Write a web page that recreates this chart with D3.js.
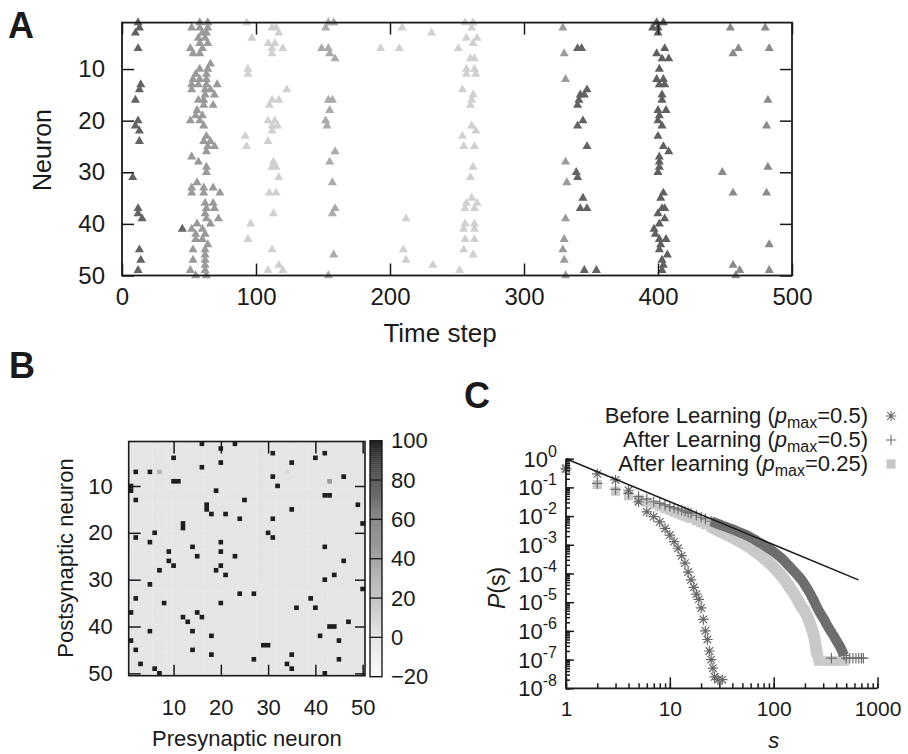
<!DOCTYPE html>
<html>
<head>
<meta charset="utf-8">
<script src="https://cdn.jsdelivr.net/npm/d3@7"></script>
<style>
body { margin: 0; background: #fff; }
svg text { font-family: "Liberation Sans", Arial, Helvetica, sans-serif; fill: #1a1a1a; }
</style>
</head>
<body>
<div id="chart"></div>
<script>
// ---------- panel A : spike raster, [time step, neuron] ----------
var spikesEarly = [[12,1],[13,2],[10,3],[12,6],[14,13],[13,14],[10,16],[12,20],[10,21],[13,22],[13,24],[8,31],[12,37],[12,38],[15,39],[13,45],[14,47],[12,49],[45,41]];
var spikesBurst1 = [[58,1],[64,1],[52,2],[58,2],[64,2],[60,3],[63,3],[57,4],[62,4],[58,5],[64,5],[51,6],[60,6],[53,7],[58,7],[66,9],[58,10],[64,10],[55,11],[63,11],[53,12],[58,12],[63,12],[52,13],[57,13],[63,13],[71,13],[52,14],[62,14],[66,14],[62,15],[69,15],[57,16],[61,16],[61,17],[68,17],[56,18],[55,19],[60,19],[51,20],[58,20],[61,21],[63,23],[61,24],[66,24],[64,25],[69,25],[63,26],[52,27],[57,28],[63,29],[63,30],[56,32],[52,33],[61,33],[68,33],[52,34],[61,34],[73,34],[62,36],[68,36],[63,37],[69,37],[62,38],[63,39],[72,39],[56,40],[66,40],[52,41],[60,41],[55,42],[62,42],[55,43],[60,43],[64,44],[53,45],[62,45],[62,46],[53,47],[62,47],[62,48],[51,49],[62,49],[55,50],[63,50]];
var spikesFaint1 = [[93,1],[97,4],[94,10],[94,11],[92,23],[93,25],[96,40],[94,43],[112,2],[115,2],[117,3],[109,5],[114,5],[112,6],[120,6],[112,7],[123,14],[112,16],[117,16],[110,17],[109,20],[114,20],[112,21],[116,21],[112,22],[109,24],[113,28],[115,29],[112,29],[117,31],[110,34],[115,34],[113,38],[112,45],[117,48],[109,49],[120,49]];
var spikesBurst2 = [[154,1],[158,1],[152,2],[149,6],[154,6],[155,7],[159,8],[154,16],[157,16],[155,18],[152,20],[153,21],[159,26],[155,28],[157,32],[159,37],[157,38],[158,46],[154,50]];
var spikesFaint2 = [[209,2],[231,3],[193,6],[207,6],[212,39],[210,45],[212,47],[232,48],[252,49],[256,1],[262,1],[261,2],[257,4],[265,4],[262,5],[251,6],[260,8],[263,8],[257,10],[263,10],[257,11],[264,11],[254,14],[262,15],[261,16],[260,17],[261,21],[264,22],[254,23],[255,25],[263,25],[262,29],[260,31],[261,35],[257,36],[265,36],[256,37],[263,37],[256,40],[263,40],[255,41],[263,41],[256,43],[263,43],[255,45],[262,46]];
var spikesBurst3 = [[329,2],[330,7],[331,12],[331,28],[332,32],[331,39],[330,43],[329,45],[330,47],[331,50]];
var spikesLate1 = [[340,6],[343,6],[347,14],[342,15],[345,15],[341,16],[340,17],[344,20],[340,21],[347,25],[339,30],[340,31],[344,35],[342,37],[347,37],[345,49],[354,49]];
var spikesLate2 = [[399,1],[404,1],[396,2],[400,2],[400,3],[405,6],[399,7],[403,8],[408,8],[401,10],[399,12],[404,12],[401,13],[405,13],[403,15],[403,16],[400,18],[406,18],[401,19],[400,20],[403,21],[400,23],[404,25],[408,26],[401,27],[401,28],[401,29],[400,30],[404,34],[402,35],[405,37],[403,37],[400,38],[405,39],[401,40],[397,41],[398,42],[401,43],[406,43],[402,44],[401,45],[407,46],[403,47],[404,48],[403,49]];
var spikesLate3 = [[454,2],[480,2],[460,6],[456,7],[483,6],[482,16],[481,21],[482,29],[448,30],[456,34],[481,34],[483,44],[456,48],[461,49],[458,50],[483,49]];
var timeTicks = [0,100,200,300,400,500];
var neuronTicks = [10,20,30,40,50];

// ---------- panel B : weight matrix ----------
var nNeurons = 50;
var baseWeight = 0;
// [presynaptic, postsynaptic], weight 100
var strongLinks = [[16,1],[23,1],[20,2],[31,3],[42,3],[10,4],[40,4],[20,5],[35,5],[16,6],[2,7],[5,7],[31,8],[46,8],[10,9],[11,9],[1,10],[32,10],[1,11],[19,11],[42,12],[43,12],[2,13],[25,13],[17,14],[49,14],[17,15],[35,15],[18,16],[21,16],[24,17],[31,17],[12,18],[50,18],[12,19],[6,20],[30,20],[2,21],[31,21],[5,22],[20,22],[14,23],[42,23],[9,24],[20,24],[15,25],[23,25],[9,26],[46,26],[10,27],[20,27],[7,28],[19,28],[21,29],[44,29],[42,30],[5,31],[50,32],[24,33],[27,33],[2,34],[39,34],[8,35],[20,35],[36,36],[40,36],[1,37],[15,37],[12,38],[16,38],[13,39],[47,39],[43,40],[44,40],[5,41],[14,41],[18,42],[41,42],[1,43],[45,43],[29,44],[30,44],[2,45],[14,45],[18,46],[35,46],[27,47],[45,47],[3,48],[34,48],[6,49],[35,49],[7,50],[42,50]];
// [presynaptic, postsynaptic, weight]
var weakLinks = [[7,7,30],[34,7,8],[43,9,45]];
var matrixTicks = [10,20,30,40,50];
var colorbarTicks = [-20,0,20,40,60,80,100];

// ---------- panel C : avalanche size distribution (log10 P) ----------
var sBefore = [1,2,3,4,5,6,7,8,9,10,11,12,13,14,15,16,17,18,19,20,21,22,23,24,25,26,27,29,32];
var lgBefore = [-0.35,-0.53,-0.74,-1.1,-1.5,-1.85,-2.02,-2.2,-2.43,-2.66,-2.89,-3.12,-3.38,-3.64,-3.95,-4.22,-4.48,-4.72,-4.9,-5.2,-5.6,-6.0,-6.3,-6.7,-7.0,-7.3,-7.6,-7.7,-7.7];
var sAfter = [1,2,3,4,5,6,7,8,9,10,11,12,13,14,15,16,18,20,22,25,28,32,36,41,46,52,58,65,73,82,92,103,115,128,140,155,170,185,200,220,240,260,280,300,325,350,375,400,425,450,475];
var lgAfter = [-0.35,-0.86,-1.07,-1.21,-1.32,-1.41,-1.5,-1.56,-1.61,-1.67,-1.71,-1.75,-1.79,-1.83,-1.87,-1.9,-1.97,-2.04,-2.1,-2.18,-2.25,-2.33,-2.4,-2.47,-2.55,-2.63,-2.71,-2.81,-2.92,-3.03,-3.15,-3.28,-3.42,-3.58,-3.73,-3.9,-4.06,-4.22,-4.4,-4.64,-4.9,-5.16,-5.38,-5.55,-5.78,-5.98,-6.15,-6.32,-6.48,-6.65,-6.85];
var sAfterTail = [360,500,540,580,620,660,700,730];
var lgAfterTail = -6.95;
var sAfter25 = [1,2,3,4,5,6,7,8,9,10,11,12,13,14,15,16,18,20,22,25,28,32,36,41,46,52,58,65,73,82,92,103,115,128,140,155,170,185,200,215,230,245,255,265];
var lgAfter25 = [-0.35,-0.9,-1.13,-1.29,-1.41,-1.51,-1.6,-1.67,-1.74,-1.8,-1.86,-1.91,-1.96,-2.0,-2.04,-2.08,-2.16,-2.23,-2.3,-2.39,-2.47,-2.57,-2.66,-2.76,-2.86,-2.97,-3.08,-3.2,-3.34,-3.49,-3.65,-3.83,-4.02,-4.23,-4.44,-4.67,-4.92,-5.15,-5.33,-5.57,-5.86,-6.2,-6.55,-6.9];
var sAfter25Tail = [270,300,330,360,400,440,480];
var lgAfter25Tail = -7.05;
var fitS = [1, 655];
var fitP = [1, 6.0e-5];
var sTicks = [1,10,100,1000];
var pExponents = [0,-1,-2,-3,-4,-5,-6,-7,-8];

var svg = d3.select("#chart").append("svg")
	.attr("width", 908)
	.attr("height", 754);

function styleAxis(g, fs) {
	g.select(".domain").remove();
	g.selectAll(".tick line").attr("stroke", "#1a1a1a").attr("stroke-width", 1.5);
	g.selectAll(".tick text").attr("font-size", fs).attr("fill", "#1a1a1a")
		.style("font-family", "'Liberation Sans', Arial, sans-serif");
}

//================ A =================
var xA = d3.scaleLinear().domain([0, 500]).range([122, 792]);
var yA = d3.scaleLinear().domain([1, 50]).range([22.6, 275.5]);
var tri = d3.symbol().type(d3.symbolTriangle).size(36);

var rasterGroups = [
	{spikes: spikesEarly, color: "#636363"},
	{spikes: spikesBurst1, color: "#9a9a9a"},
	{spikes: spikesFaint1, color: "#d0d0d0"},
	{spikes: spikesBurst2, color: "#ababab"},
	{spikes: spikesFaint2, color: "#d0d0d0"},
	{spikes: spikesBurst3, color: "#9c9c9c"},
	{spikes: spikesLate1, color: "#636363"},
	{spikes: spikesLate2, color: "#606060"},
	{spikes: spikesLate3, color: "#8a8a8a"}
];
var sA = svg.append("g");
rasterGroups.forEach(function(grp) {
	sA.append("g").selectAll("path")
		.data(grp.spikes)
		.enter()
		.append("path")
		.attr("d", tri)
		.attr("transform", function(d) { return "translate(" + xA(d[0]) + "," + yA(d[1]) + ")"; })
		.attr("fill", grp.color);
});

sA.append("g").attr("transform", "translate(0,275.5)")
	.call(d3.axisBottom(xA).tickValues(timeTicks).tickSize(-12).tickPadding(12))
	.call(styleAxis, 24);
sA.append("g").attr("transform", "translate(0,22.6)")
	.call(d3.axisTop(xA).tickValues(timeTicks).tickSize(-12).tickFormat(""))
	.call(styleAxis, 24);
sA.append("g").attr("transform", "translate(122,0)")
	.call(d3.axisLeft(yA).tickValues(neuronTicks).tickSize(-12).tickPadding(17))
	.call(styleAxis, 24);
sA.append("g").attr("transform", "translate(792,0)")
	.call(d3.axisRight(yA).tickValues(neuronTicks).tickSize(-12).tickFormat(""))
	.call(styleAxis, 24);
sA.append("rect")
	.attr("x", xA(0)).attr("y", yA(1))
	.attr("width", xA(500) - xA(0)).attr("height", yA(50) - yA(1))
	.attr("fill", "none").attr("stroke", "#1a1a1a").attr("stroke-width", 1.8);

sA.append("text").attr("x", 8).attr("y", 38)
	.attr("font-size", 36).attr("font-weight", "bold").text("A");
sA.append("text").attr("x", 440).attr("y", 342)
	.attr("text-anchor", "middle").attr("font-size", 26).text("Time step");
sA.append("text").attr("transform", "translate(51,150) rotate(-90)")
	.attr("text-anchor", "middle").attr("font-size", 25).text("Neuron");

//================ B =================
var xB = d3.scaleLinear().domain([0.5, nNeurons + 0.5]).range([128.7, 365]);
var yB = d3.scaleLinear().domain([0.5, nNeurons + 0.5]).range([441.5, 675.7]);
var colorW = d3.scaleLinear()
	.domain(colorbarTicks)
	.range(["#fbfbfb", "#e4e5e6", "#c5c5c5", "#a4a4a4", "#828282", "#5e5e5e", "#1e1e1e"])
	.clamp(true);

var cells = [];
d3.range(1, nNeurons + 1).forEach(function(post) {
	d3.range(1, nNeurons + 1).forEach(function(pre) {
		cells.push({pre: pre, post: post, w: baseWeight});
	});
});
function setW(pre, post, w) { cells[(post - 1) * nNeurons + (pre - 1)].w = w; }
strongLinks.forEach(function(d) { setW(d[0], d[1], 100); });
weakLinks.forEach(function(d) { setW(d[0], d[1], d[2]); });

var sB = svg.append("g");
var cw = xB(1.5) - xB(0.5), ch = yB(1.5) - yB(0.5);
sB.append("g").selectAll("rect")
	.data(cells)
	.enter()
	.append("rect")
	.attr("x", function(d) { return xB(d.pre - 0.5); })
	.attr("y", function(d) { return yB(d.post - 0.5); })
	.attr("width", cw + 0.3)
	.attr("height", ch + 0.3)
	.attr("fill", function(d) { return colorW(d.w); });

sB.append("g").attr("transform", "translate(0,675.7)")
	.call(d3.axisBottom(xB).tickValues(matrixTicks).tickSize(-11).tickPadding(24))
	.call(styleAxis, 22);
sB.append("g").attr("transform", "translate(0,441.5)")
	.call(d3.axisTop(xB).tickValues(matrixTicks).tickSize(-12).tickFormat(""))
	.call(styleAxis, 22);
sB.append("g").attr("transform", "translate(128.7,0)")
	.call(d3.axisLeft(yB).tickValues(matrixTicks).tickSize(-12).tickPadding(16))
	.call(styleAxis, 22);
sB.append("g").attr("transform", "translate(365,0)")
	.call(d3.axisRight(yB).tickValues(matrixTicks).tickSize(-10).tickFormat(""))
	.call(styleAxis, 22);
sB.append("rect")
	.attr("x", xB(0.5)).attr("y", yB(0.5))
	.attr("width", xB(50.5) - xB(0.5)).attr("height", yB(50.5) - yB(0.5))
	.attr("fill", "none").attr("stroke", "#1a1a1a").attr("stroke-width", 1.6);

// colorbar
var cbY = d3.scaleLinear().domain([-20, 100]).range([676.7, 440.7]);
sB.append("g").selectAll("rect")
	.data(d3.range(-20, 100, 1))
	.enter()
	.append("rect")
	.attr("x", 370)
	.attr("y", function(d) { return cbY(d + 1); })
	.attr("width", 12)
	.attr("height", function(d) { return cbY(d) - cbY(d + 1) + 0.3; })
	.attr("fill", function(d) { return colorW(d + 0.5); });
sB.append("g").selectAll("line")
	.data(colorbarTicks.slice(1, -1))
	.enter()
	.append("line")
	.attr("x1", 370).attr("x2", 382)
	.attr("y1", function(d) { return cbY(d); })
	.attr("y2", function(d) { return cbY(d); })
	.attr("stroke", "#1a1a1a").attr("stroke-width", 1.3);
sB.append("rect")
	.attr("x", 370).attr("y", cbY(100)).attr("width", 12).attr("height", cbY(-20) - cbY(100))
	.attr("fill", "none").attr("stroke", "#1a1a1a").attr("stroke-width", 1.4);
sB.append("g").selectAll("text")
	.data(colorbarTicks)
	.enter()
	.append("text")
	.attr("x", 391)
	.attr("y", function(d) { return cbY(d); })
	.attr("dy", "0.35em")
	.attr("font-size", 22)
	.text(function(d) { return d < 0 ? "\u2212" + (-d) : d; });

sB.append("text").attr("x", 9).attr("y", 378)
	.attr("font-size", 36).attr("font-weight", "bold").text("B");
sB.append("text").attr("x", (xB(0.5) + xB(50.5)) / 2).attr("y", 746)
	.attr("text-anchor", "middle").attr("font-size", 22).text("Presynaptic neuron");
sB.append("text").attr("transform", "translate(73,558) rotate(-90)")
	.attr("text-anchor", "middle").attr("font-size", 22).text("Postsynaptic neuron");

//================ C =================
var xC = d3.scaleLog().domain([1, 1000]).range([566, 877.5]);
var yC = d3.scaleLog().domain([1e-8, 1]).range([688.3, 458.7]);
function pOf(lg) { return Math.pow(10, lg); }

var sC = svg.append("g");

// stroke markers drawn as custom d3 symbol types
var symPlus = {
	draw: function(ctx, size) {
		var r = Math.sqrt(size) / 2;
		ctx.moveTo(-r, 0); ctx.lineTo(r, 0);
		ctx.moveTo(0, -r); ctx.lineTo(0, r);
	}
};
var symStar = {
	draw: function(ctx, size) {
		var r = Math.sqrt(size) / 2, q = r * 0.72;
		ctx.moveTo(-r, 0); ctx.lineTo(r, 0);
		ctx.moveTo(0, -r); ctx.lineTo(0, r);
		ctx.moveTo(-q, -q); ctx.lineTo(q, q);
		ctx.moveTo(-q, q); ctx.lineTo(q, -q);
	}
};
var mSquare = d3.symbol().type(d3.symbolSquare).size(85);
var mPlus = d3.symbol().type(symPlus).size(110);
var mStar = d3.symbol().type(symStar).size(110);

var sqColor = "#c9c9c9", plusColor = "#6e6e6e", starColor = "#686868";

var after25 = sAfter25.map(function(s, i) { return [s, pOf(lgAfter25[i])]; })
	.concat(sAfter25Tail.map(function(s) { return [s, pOf(lgAfter25Tail)]; }));
var after = sAfter.map(function(s, i) { return [s, pOf(lgAfter[i])]; })
	.concat(sAfterTail.map(function(s) { return [s, pOf(lgAfterTail)]; }));
var before = sBefore.map(function(s, i) { return [s, pOf(lgBefore[i])]; });

var band = d3.line()
	.x(function(d) { return xC(d[0]); })
	.y(function(d) { return yC(d[1]); })
	.curve(d3.curveMonotoneX);

// dense markers at large s merge into a band
sC.append("path")
	.datum(after25.filter(function(d, i) { return d[0] >= 25 && i < sAfter25.length; }))
	.attr("d", band).attr("fill", "none")
	.attr("stroke", sqColor).attr("stroke-width", 12).attr("stroke-linejoin", "round");
sC.append("g").selectAll("path")
	.data(after25)
	.enter()
	.append("path")
	.attr("d", mSquare)
	.attr("transform", function(d) { return "translate(" + xC(d[0]) + "," + yC(d[1]) + ")"; })
	.attr("fill", sqColor);

sC.append("path")
	.datum(after.filter(function(d, i) { return d[0] >= 25 && i < sAfter.length; }))
	.attr("d", band).attr("fill", "none")
	.attr("stroke", plusColor).attr("stroke-width", 10).attr("stroke-linejoin", "round");
sC.append("g").selectAll("path")
	.data(after)
	.enter()
	.append("path")
	.attr("d", mPlus)
	.attr("transform", function(d) { return "translate(" + xC(d[0]) + "," + yC(d[1]) + ")"; })
	.attr("fill", "none").attr("stroke", plusColor).attr("stroke-width", 1.2);

sC.append("g").selectAll("path")
	.data(before)
	.enter()
	.append("path")
	.attr("d", mStar)
	.attr("transform", function(d) { return "translate(" + xC(d[0]) + "," + yC(d[1]) + ")"; })
	.attr("fill", "none").attr("stroke", starColor).attr("stroke-width", 1.2);

sC.append("line")
	.attr("x1", xC(fitS[0])).attr("y1", yC(fitP[0]))
	.attr("x2", xC(fitS[1])).attr("y2", yC(fitP[1]))
	.attr("stroke", "#1a1a1a").attr("stroke-width", 1.5);

// axes
sC.append("g").attr("transform", "translate(0,688.3)")
	.call(d3.axisBottom(xC).tickValues(xC.ticks()).tickSize(-5).tickFormat(""))
	.call(styleAxis, 21);
sC.append("g").attr("transform", "translate(0,688.3)")
	.call(d3.axisBottom(xC).tickValues(sTicks).tickSize(-11).tickPadding(13).tickFormat(d3.format("d")))
	.call(styleAxis, 21);
sC.append("g").attr("transform", "translate(566,0)")
	.call(d3.axisLeft(yC).tickValues(yC.ticks()).tickSize(-4).tickFormat(""))
	.call(styleAxis, 21);
sC.append("g").attr("transform", "translate(566,0)")
	.call(d3.axisLeft(yC).tickValues(pExponents.map(pOf)).tickSize(-8).tickFormat(""))
	.call(styleAxis, 21);
sC.append("path")
	.attr("d", "M" + xC(1) + "," + yC(1) + "V" + yC(1e-8) + "H" + xC(1000))
	.attr("fill", "none").attr("stroke", "#1a1a1a").attr("stroke-width", 1.8);

var yLab = sC.append("g").selectAll("text")
	.data(pExponents)
	.enter()
	.append("text")
	.attr("x", 557)
	.attr("y", function(d) { return yC(pOf(d)) + 8; })
	.attr("text-anchor", "end")
	.attr("font-size", 22);
yLab.append("tspan").text("10");
yLab.append("tspan").attr("dy", -10).attr("font-size", 16)
	.text(function(d) { return d < 0 ? "-" + (-d) : d; });

sC.append("text").attr("x", 464).attr("y", 408)
	.attr("font-size", 36).attr("font-weight", "bold").text("C");
sC.append("text").attr("x", xC(100)).attr("y", 748)
	.attr("text-anchor", "middle").attr("font-size", 22).attr("font-style", "italic").text("s");
var pl = sC.append("text").attr("transform", "translate(505,588) rotate(-90)")
	.attr("text-anchor", "middle").attr("font-size", 23);
pl.append("tspan").attr("font-style", "italic").text("P");
pl.append("tspan").text("(s)");

// legend
var legendRows = [
	{pre: "Before Learning (", val: "=0.5)", y: 423, mark: "star"},
	{pre: "After Learning (", val: "=0.5)", y: 447, mark: "plus"},
	{pre: "After learning (", val: "=0.25)", y: 471, mark: "square"}
];
legendRows.forEach(function(r) {
	var t = sC.append("text").attr("x", 868).attr("y", r.y)
		.attr("text-anchor", "end").attr("font-size", 22);
	t.append("tspan").text(r.pre);
	t.append("tspan").attr("font-style", "italic").text("p");
	t.append("tspan").attr("font-size", 16).attr("dy", 5).text("max");
	t.append("tspan").attr("dy", -5).text(r.val);
	var m = sC.append("path").attr("transform", "translate(891," + (r.y - 7) + ")");
	if (r.mark == "star") m.attr("d", mStar).attr("fill", "none").attr("stroke", starColor).attr("stroke-width", 1.1);
	if (r.mark == "plus") m.attr("d", mPlus).attr("fill", "none").attr("stroke", plusColor).attr("stroke-width", 1.1);
	if (r.mark == "square") m.attr("d", mSquare).attr("fill", sqColor);
});
</script>
</body>
</html>
